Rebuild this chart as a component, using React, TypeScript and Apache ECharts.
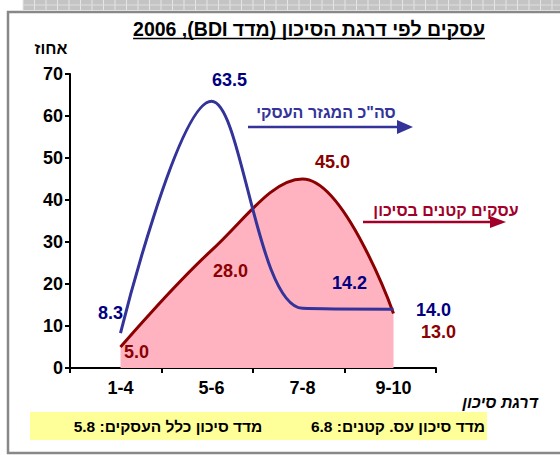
import React, { useEffect, useRef } from "react";
import * as echarts from "echarts";

// ---- data ----
const categories = ["1-4", "5-6", "7-8", "9-10"];
const totalSector = [8.3, 63.5, 14.2, 14.0]; // סה"כ המגזר העסקי
const smallBiz = [5.0, 28.0, 45.0, 13.0]; // עסקים קטנים בסיכון
const yTicks = { min: 0, max: 70, interval: 10 };

// label offsets (styling, kept separate from values)
const totalOffsets = [[-10, -20], [18, -21], [47, -25], [40, 1]];
const smallOffsets = [[16, 5], [19, 21], [30, -17], [45, 19]];

const FONT = "Arial, 'Liberation Sans', 'DejaVu Sans', sans-serif";
const BLUE = "#333399";
const BLUE_LBL = "#000080";
const RED = "#8B0000";
const RED_ARROW = "#A0002A";
const PINK = "#FFB3C1";

const title = "עסקים לפי דרגת הסיכון (מדד BDI), 2006";

function measure(text: string, font: string): number {
  const c = document.createElement("canvas").getContext("2d");
  if (!c) return 350;
  c.font = font;
  return c.measureText(text).width;
}

export default function App() {
  const ref = useRef<HTMLDivElement>(null);

  useEffect(() => {
    if (!ref.current) return;
    const chart = echarts.init(ref.current, undefined, { renderer: "svg" });

    const titleFont = `bold 19.5px ${FONT}`;
    const titleW = measure(title, titleFont);
    const titleCx = 309;

    const stripLines: any[] = [];
    for (let x = 23; x < 560; x += 11.5) {
      stripLines.push({
        type: "line",
        shape: { x1: x, y1: 0, x2: x, y2: 10 },
        style: { stroke: "#e6e6e6", lineWidth: 1 },
        silent: true,
      });
    }

    const mk = (vals: number[], offs: number[][]) =>
      vals.map((v, i) => ({
        value: v,
        label: { offset: offs[i] },
      }));

    const labelBase = (color: string) => ({
      show: true,
      position: "inside",
      color,
      fontFamily: FONT,
      fontWeight: "bold",
      fontSize: 18,
      formatter: (p: any) => Number(p.value).toFixed(1),
    });

    chart.setOption({
      animation: false,
      backgroundColor: "#ffffff",
      grid: [
        { left: 70, top: 74, width: 366, height: 294 },
        { left: 75, top: 74, width: 364, height: 294 },
      ],
      xAxis: [
        {
          gridIndex: 0,
          type: "category",
          data: categories,
          boundaryGap: true,
          axisLine: { lineStyle: { color: "#000", width: 2 } },
          axisTick: { show: true, length: 5, lineStyle: { color: "#000", width: 2 } },
          axisLabel: { show: false },
          splitLine: { show: false },
        },
        {
          gridIndex: 1,
          type: "category",
          data: categories,
          boundaryGap: true,
          axisLine: { show: false },
          axisTick: { show: false },
          axisLabel: {
            color: "#000",
            fontFamily: FONT,
            fontWeight: "bold",
            fontSize: 18,
            margin: 11,
          },
          splitLine: { show: false },
        },
      ],
      yAxis: [
        {
          gridIndex: 0,
          type: "value",
          ...yTicks,
          axisLine: { show: true, lineStyle: { color: "#000", width: 2 } },
          axisTick: { show: true, length: 5, lineStyle: { color: "#000", width: 2 } },
          axisLabel: {
            color: "#000",
            fontFamily: FONT,
            fontWeight: "bold",
            fontSize: 18,
            margin: 7,
          },
          splitLine: { show: false },
        },
        {
          gridIndex: 1,
          type: "value",
          ...yTicks,
          show: false,
          splitLine: { show: false },
        },
      ],
      series: [
        {
          name: "עסקים קטנים בסיכון",
          type: "line",
          xAxisIndex: 1,
          yAxisIndex: 1,
          smooth: 0.4,
          data: mk(smallBiz, smallOffsets),
          symbol: "circle",
          symbolSize: 1,
          itemStyle: { color: "rgba(0,0,0,0)" },
          lineStyle: { color: RED, width: 3 },
          areaStyle: { color: PINK, opacity: 1 },
          label: labelBase(RED),
          z: 2,
        },
        {
          name: 'סה"כ המגזר העסקי',
          type: "line",
          xAxisIndex: 1,
          yAxisIndex: 1,
          smooth: 0.35,
          data: mk(totalSector, totalOffsets),
          symbol: "circle",
          symbolSize: 1,
          itemStyle: { color: "rgba(0,0,0,0)" },
          lineStyle: { color: BLUE, width: 3 },
          label: labelBase(BLUE_LBL),
          z: 3,
        },
      ],
      graphic: [
        // top strip
        {
          type: "rect",
          shape: { x: 23, y: 0, width: 537, height: 10 },
          style: { fill: "#c4c4c4" },
          silent: true,
        },
        ...stripLines,
        {
          type: "line",
          shape: { x1: 23, y1: 5, x2: 560, y2: 5 },
          style: { stroke: "#dedede", lineWidth: 1 },
          silent: true,
        },
        // frame
        {
          type: "polyline",
          shape: { points: [[560, 12], [8, 12], [8, 453], [560, 453]] },
          style: { stroke: "#888888", lineWidth: 2.5, fill: null },
          silent: true,
        },
        // title
        {
          type: "text",
          x: titleCx,
          y: 29,
          style: {
            text: "\u202B" + title + "\u202C",
            fill: "#000",
            font: titleFont,
            textAlign: "center",
            textVerticalAlign: "middle",
          },
        },
        {
          type: "line",
          shape: { x1: titleCx - titleW / 2, y1: 38.5, x2: titleCx + titleW / 2, y2: 38.5 },
          style: { stroke: "#000", lineWidth: 1.5 },
          silent: true,
        },
        // y axis unit
        {
          type: "text",
          x: 51,
          y: 48,
          style: {
            text: "אחוז",
            fill: "#000",
            font: `bold 16px ${FONT}`,
            textAlign: "center",
            textVerticalAlign: "middle",
          },
        },
        // x axis name
        {
          type: "text",
          x: 500,
          y: 402,
          style: {
            text: "דרגת סיכון",
            fill: "#000",
            font: `italic bold 16px ${FONT}`,
            textAlign: "center",
            textVerticalAlign: "middle",
          },
        },
        // blue annotation
        {
          type: "text",
          x: 326,
          y: 112,
          style: {
            text: 'סה"כ המגזר העסקי',
            fill: BLUE,
            font: `bold 16px ${FONT}`,
            textAlign: "center",
            textVerticalAlign: "middle",
          },
        },
        {
          type: "line",
          shape: { x1: 248, y1: 127, x2: 400, y2: 127 },
          style: { stroke: BLUE, lineWidth: 2.5 },
          silent: true,
        },
        {
          type: "polygon",
          shape: { points: [[397, 120], [413, 127], [397, 134]] },
          style: { fill: BLUE },
          silent: true,
        },
        // red annotation
        {
          type: "text",
          x: 446,
          y: 210,
          style: {
            text: "עסקים קטנים בסיכון",
            fill: RED_ARROW,
            font: `bold 16px ${FONT}`,
            textAlign: "center",
            textVerticalAlign: "middle",
          },
        },
        {
          type: "line",
          shape: { x1: 363, y1: 222, x2: 493, y2: 222 },
          style: { stroke: RED_ARROW, lineWidth: 2.5 },
          silent: true,
        },
        {
          type: "polygon",
          shape: { points: [[490, 216], [506, 222], [490, 228]] },
          style: { fill: RED_ARROW },
          silent: true,
        },
        // yellow box
        {
          type: "rect",
          shape: { x: 30, y: 412, width: 457, height: 28 },
          style: { fill: "#FFFF99" },
          silent: true,
        },
        {
          type: "text",
          x: 485,
          y: 426,
          style: {
            text: "מדד סיכון עס. קטנים: 6.8",
            fill: "#000",
            font: `bold 15.5px ${FONT}`,
            textAlign: "right",
            textVerticalAlign: "middle",
          },
        },
        {
          type: "text",
          x: 168,
          y: 426,
          style: {
            text: "מדד סיכון כלל העסקים: 5.8",
            fill: "#000",
            font: `bold 15.5px ${FONT}`,
            textAlign: "center",
            textVerticalAlign: "middle",
          },
        },
      ],
    });

    return () => chart.dispose();
  }, []);

  return (
    <div
      ref={ref}
      style={{ position: "absolute", left: 0, top: 0, width: 560, height: 455 }}
    />
  );
}
